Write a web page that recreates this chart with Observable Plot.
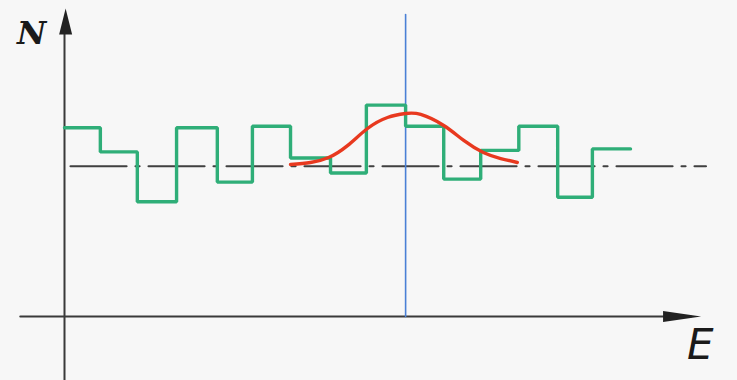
<!DOCTYPE html>
<html>
<head>
<meta charset="utf-8">
<script src="https://cdn.jsdelivr.net/npm/d3@7"></script>
<script src="https://cdn.jsdelivr.net/npm/@observablehq/plot@0.6"></script>
<style>
  html, body { margin: 0; padding: 0; background: #f7f7f7; }
  #chart svg { display: block; }
</style>
</head>
<body>
<div id="chart"></div>
<script>
// Step histogram: bin edges (E) and levels (N)
const binEdges = [0, 0.95, 1.93, 2.97, 4.05, 4.98, 5.99, 7.05, 8.0, 9.04, 10.05, 11.03, 12.04, 13.07, 13.99, 15.0];
const binLevels = [12.5, 10.9, 7.6, 12.5, 8.9, 12.6, 10.5, 9.5, 14.0, 12.6, 9.1, 11.0, 12.6, 7.9, 11.1];

// Smooth red peak curve
const peakE = [5.99, 6.52, 7.0, 7.5, 8.03, 8.56, 9.04, 9.44, 10.05, 10.58, 11.1, 11.56, 12.0];
const peakN = [10.07, 10.2, 10.53, 11.32, 12.45, 13.18, 13.44, 13.38, 12.65, 11.66, 10.86, 10.46, 10.2];

// Mean level (dash-dot line) and its extent
const meanN = 9.95;
const meanExtent = [0.16, 17.0];

// Blue vertical marker
const markerE = 9.04;
const markerTop = 20.0;

// Axes extents
const xAxisExtent = [-1.17, 16.6];
const yAxisExtent = [-4.2, 19.6];
const xArrowTip = [16.87, 0];
const yArrowTip = [0.03, 20.4];

// Axis labels
const labels = [
  {text: "N", e: -0.87, n: 18.7, font: "DejaVu Serif", size: 32, weight: "bold"},
  {text: "E", e: 16.85, n: -1.95, font: "DejaVu Sans", size: 42, weight: "normal"}
];

const stepData = binEdges.map((e, i) => ({e, n: binLevels[Math.min(i, binLevels.length - 1)]}));
const peakData = peakE.map((e, i) => ({e, n: peakN[i]}));

function headSymbol(len, half) {
  return {draw(ctx) { ctx.moveTo(0, 0); ctx.lineTo(-half, len); ctx.lineTo(half, len); ctx.closePath(); }};
}

const axisColor = "#3a3a3a";

const chart = Plot.plot({
  width: 737,
  height: 380,
  margin: 0,
  style: {background: "#f7f7f7"},
  x: {domain: [0, 15], range: [64, 630], axis: null},
  y: {domain: [0, 10], range: [316, 165], axis: null},
  marks: [
    // axes
    Plot.line([{e: xAxisExtent[0], n: 0}, {e: xAxisExtent[1], n: 0}], {x: "e", y: "n", stroke: axisColor, strokeWidth: 2.2}),
    Plot.line([{e: 0, n: yAxisExtent[0]}, {e: 0, n: yAxisExtent[1]}], {x: "e", y: "n", stroke: axisColor, strokeWidth: 2}),
    Plot.dot([{e: xArrowTip[0], n: xArrowTip[1]}], {x: "e", y: "n", symbol: headSymbol(38, 5.5), rotate: 90, fill: "#222", stroke: "none"}),
    Plot.dot([{e: yArrowTip[0], n: yArrowTip[1]}], {x: "e", y: "n", symbol: headSymbol(26, 6.5), fill: "#222", stroke: "none"}),
    // mean dash-dot line
    Plot.line([{e: meanExtent[0], n: meanN}, {e: meanExtent[1], n: meanN}], {x: "e", y: "n", stroke: "#404040", strokeWidth: 2.2, strokeDasharray: "56,9,4,9"}),
    // blue marker
    Plot.line([{e: markerE, n: 0}, {e: markerE, n: markerTop}], {x: "e", y: "n", stroke: "#4a80d6", strokeWidth: 1.6}),
    // green steps
    Plot.line(stepData, {x: "e", y: "n", curve: "step-after", stroke: "#2fae78", strokeWidth: 3.4, strokeLinejoin: "miter"}),
    // red peak
    Plot.line(peakData, {x: "e", y: "n", curve: "natural", stroke: "#e8391f", strokeWidth: 3.4}),
    // labels
    ...labels.map(l => Plot.text([l], {x: "e", y: "n", text: "text", fontFamily: l.font, fontSize: l.size, fontWeight: l.weight, fontStyle: "italic", fill: "#1a1a1a", textAnchor: "middle", lineAnchor: "middle"}))
  ]
});
document.getElementById("chart").appendChild(chart);
</script>
</body>
</html>
